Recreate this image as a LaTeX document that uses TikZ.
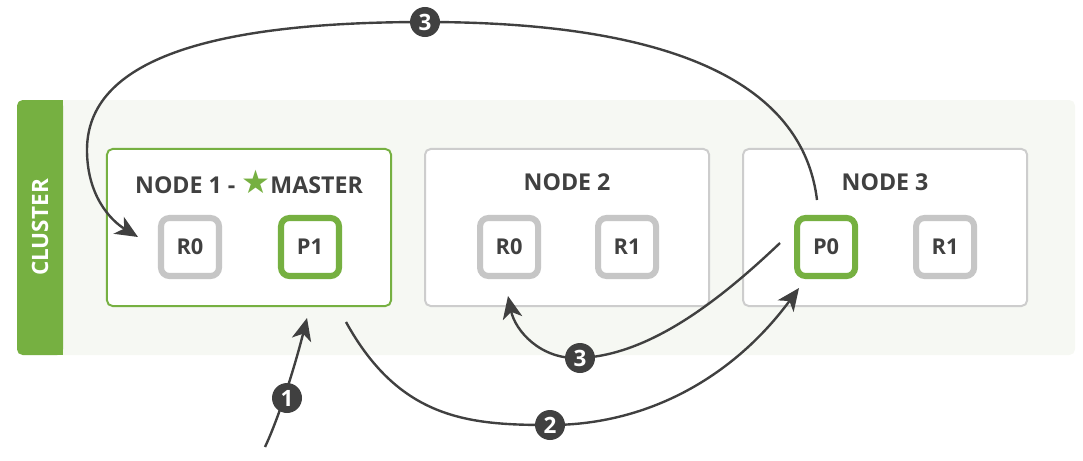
\documentclass[tikz,border=0pt]{standalone}
\usepackage{fontspec}
\setmainfont{Open Sans}
\newfontfamily\symfont{DejaVu Sans}
\usetikzlibrary{positioning,arrows.meta,calc}

\definecolor{clustergreen}{HTML}{76B041}
\definecolor{clusterbg}{HTML}{F6F8F3}
\definecolor{boxgrey}{HTML}{CDCDCD}
\definecolor{shardgrey}{HTML}{C6C6C6}
\definecolor{inkgrey}{HTML}{404040}

\tikzset{
  esnode/.style={draw=boxgrey, fill=white, line width=1.4pt, rounded corners=4pt,
    minimum width=7.1cm, minimum height=3.925cm},
  master/.style={esnode, draw=clustergreen},
  shard/.style={draw=shardgrey, fill=white, line width=4.3pt, rounded corners=6pt,
    minimum size=1.45cm, inner sep=0pt, text=inkgrey,
    font=\fontsize{15.5}{17}\selectfont\bfseries},
  primary/.style={shard, draw=clustergreen},
  title/.style={inner sep=0pt, text=inkgrey, font=\fontsize{16.5}{18}\selectfont\bfseries},
  badge/.style={circle, fill=inkgrey, minimum size=0.75cm, inner sep=0pt, text=white,
    font=\fontsize{16}{17}\selectfont\bfseries},
  flow/.style={draw=inkgrey, line width=1.7pt, -{Stealth[length=16pt,width=14pt,inset=4.5pt]}},
}

\begin{document}
\begin{tikzpicture}[x=0.025cm, y=-0.025cm]
  \useasboundingbox (0,0) rectangle (1083,460);

  % cluster
  \fill[clusterbg, rounded corners=4pt] (17,100) rectangle (1075,355);
  \fill[clustergreen, rounded corners=4pt] (17,100) rectangle (63,355);
  \fill[clustergreen] (40,100) rectangle (63,355);
  \node[rotate=90, text=white, font=\fontsize{16}{18}\selectfont\bfseries] (cluster) at (40,227.5) {CLUSTER};

  % nodes
  \node[master] (n1) at (249,227.5) {};
  \node[esnode] (n2) [right=0.8cm of n1] {};
  \node[esnode] (n3) [right=0.8cm of n2] {};

  \node[title] (t1) at ($(n1.north)+(0,34)$) {NODE 1 - {\symfont\fontsize{23}{18}\selectfont\color{clustergreen}★}MASTER};
  \node[title] (t2) at ($(n2.north)+(0,34)$) {NODE 2};
  \node[title] (t3) at ($(n3.north)+(0,34)$) {NODE 3};

  % shards
  \node[shard]   (n1r0) at ($(n1.center)+(-59,19.5)$) {R0};
  \node[primary] (n1p1) at ($(n1.center)+(61,19.5)$) {P1};
  \node[shard]   (n2r0) at ($(n2.center)+(-58,19.5)$) {R0};
  \node[shard]   (n2r1) at ($(n2.center)+(60,19.5)$) {R1};
  \node[primary] (n3p0) at ($(n3.center)+(-59,19.5)$) {P0};
  \node[shard]   (n3r1) at ($(n3.center)+(60,19.5)$) {R1};

  % request path
  \coordinate (req)   at (265,447);
  \coordinate (p1in)  at (307,318);
  \coordinate (p1out) at (346,322);
  \coordinate (p0in)  at (799,288);
  \coordinate (p0top) at (817,200);
  \coordinate (p0left) at (780,243);
  \coordinate (r0in)  at (508,296);
  \coordinate (r0top) at (138,237);
  \coordinate (b1) at (287,398);
  \coordinate (b2) at (550,425);
  \coordinate (b3) at (580,358);
  \coordinate (b3t) at (425,22);

  \draw[flow] (req) .. controls (280,415) and (296,362) .. (p1in);
  \draw[flow] (p1out) .. controls (400,420) and (470,425) .. (b2)
    .. controls (650,425) and (735,375) .. (p0in);
  \draw[flow] (p0left) .. controls (720,300) and (650,355) .. (b3)
    .. controls (540,360) and (515,330) .. (r0in);
  \draw[flow] (p0top) .. controls (800,60) and (620,22) .. (b3t)
    .. controls (210,22) and (87,60) .. (87,150)
    .. controls (87,195) and (110,220) .. (r0top);

  \node[badge] at (b1) {1};
  \node[badge] at (b2) {2};
  \node[badge] at (b3) {3};
  \node[badge] at (b3t) {3};

\end{tikzpicture}
\end{document}
